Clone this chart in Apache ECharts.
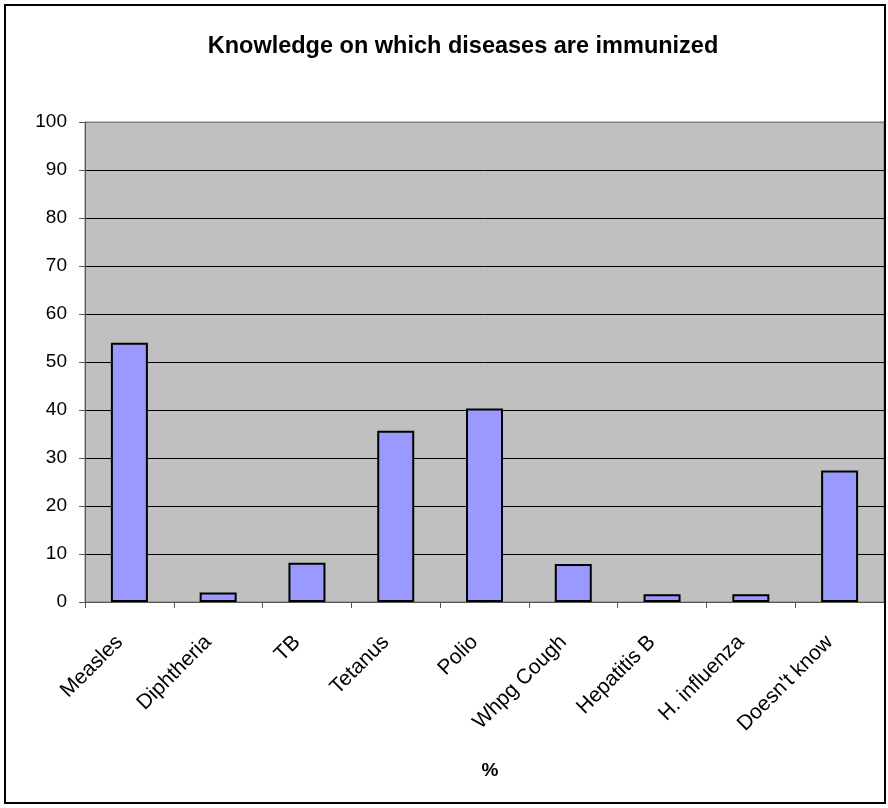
<!DOCTYPE html>
<html>
<head>
<meta charset="utf-8">
<script src="https://cdn.jsdelivr.net/npm/echarts@6/dist/echarts.min.js"></script>
<style>html,body{margin:0;padding:0;background:#fff;}#c{width:888px;height:808px;}</style>
</head>
<body>
<div id="c"></div>
<script>
const categories = ["Measles", "Diphtheria", "TB", "Tetanus", "Polio", "Whpg Cough", "Hepatitis B", "H. influenza", "Doesn't know"];
const values = [54.0, 2.0, 8.2, 35.7, 40.3, 7.9, 1.6, 1.6, 27.4];
const yTicks = [0, 10, 20, 30, 40, 50, 60, 70, 80, 90, 100];

const chart = echarts.init(document.getElementById('c'), null, {renderer: 'canvas'});
const font = 'Liberation Sans, Arial, sans-serif';
const splitColors = yTicks.map((t, i) => i === yTicks.length - 1 ? '#808080' : '#000');
chart.setOption({
  animation: false,
  backgroundColor: '#ffffff',
  title: [
    {text: 'Knowledge on which diseases are immunized', left: 458, top: 30, textAlign: 'center',
     textStyle: {fontFamily: font, fontSize: 23.5, fontWeight: 'bold', color: '#000'}},
    {text: '%', left: 485, top: 756, textAlign: 'center',
     textStyle: {fontFamily: font, fontSize: 19, fontWeight: 'bold', color: '#000'}}
  ],
  graphic: [
    {type: 'rect', shape: {x: 5, y: 5, width: 880, height: 798}, style: {fill: null, stroke: '#000', lineWidth: 2}, z: 100}
  ],
  grid: {left: 85, right: 4, top: 122, bottom: 206, show: true, backgroundColor: '#c0c0c0', borderColor: '#808080', borderWidth: 1},
  xAxis: {
    type: 'category', data: categories,
    axisLine: {show: true, lineStyle: {color: '#555', width: 1}},
    axisTick: {show: true, length: 6, alignWithLabel: false, lineStyle: {color: '#555'}},
    axisLabel: {rotate: 45, interval: 0, margin: 27, padding: [0, 14, 0, 0], fontFamily: font, fontSize: 21, color: '#000'},
    splitLine: {show: false}
  },
  yAxis: {
    type: 'value', min: yTicks[0], max: yTicks[yTicks.length - 1], interval: 10,
    axisLine: {show: true, lineStyle: {color: '#555', width: 1}},
    axisTick: {show: true, length: 6, lineStyle: {color: '#555'}},
    axisLabel: {margin: 18, fontFamily: font, fontSize: 19, color: '#000'},
    splitLine: {show: true, lineStyle: {color: splitColors, width: 1}}
  },
  series: [{
    type: 'bar', data: values, barWidth: 37,
    itemStyle: {color: '#9999ff', borderColor: '#000', borderWidth: 2}
  }]
});
</script>
</body>
</html>
